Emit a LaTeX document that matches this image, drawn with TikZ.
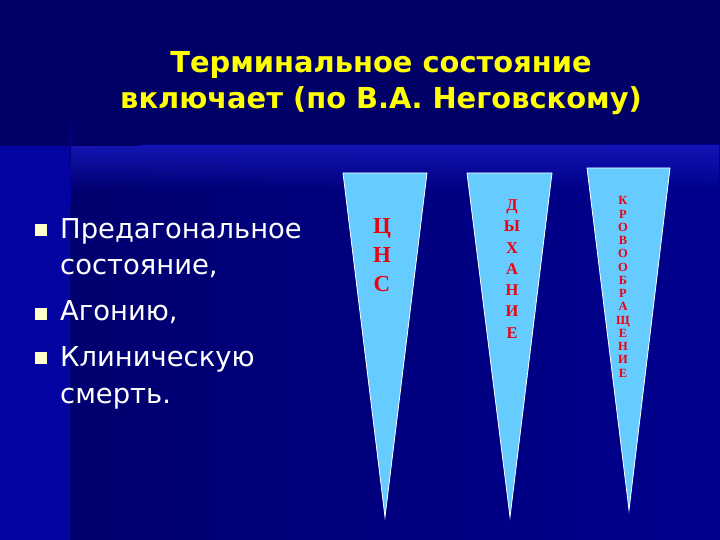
\documentclass[tikz,border=0pt]{standalone}
\usepackage{fontspec}
\setmainfont{DejaVu Sans}
\newfontfamily\letterfont{Liberation Serif}
\usetikzlibrary{fadings}

\definecolor{bgtop}{HTML}{000066}
\definecolor{bgdark}{HTML}{00006C}
\definecolor{bgright}{HTML}{00008E}
\definecolor{bgband}{HTML}{1414B4}
\definecolor{bgstrip}{HTML}{0404A2}
\definecolor{icicle}{HTML}{66CCFF}
\definecolor{titleyellow}{HTML}{FFFF00}
\definecolor{bulletcream}{HTML}{FFFFCC}
\definecolor{letterred}{HTML}{EE0010}

\tikzset{
  title/.style={text=titleyellow,font=\fontsize{29}{36}\selectfont\bfseries,align=center,inner sep=0},
  item/.style={text=white,font=\fontsize{27.5}{37}\selectfont,align=left,inner sep=0,anchor=base west},
  bullet/.style={fill=bulletcream,minimum size=12bp,inner sep=0},
  icicle/.style={fill=icicle,draw=white,line width=0.8bp,line join=miter},
  letters/.style={text=letterred,align=center,inner sep=0},
}

\begin{document}
\begin{tikzpicture}[x=1bp,y=-1bp]
\useasboundingbox (0,0) rectangle (720,540);

% background
\fill[bgtop] (0,0) rectangle (720,145);
\shade[left color=bgdark,right color=bgright] (0,145) rectangle (720,540);
\fill[bgband,path fading=south] (0,145) rectangle (720,190);
\fill[bgstrip] (0,145) rectangle (70,540);
\shade[left color=bgtop,middle color=white,right color=bgtop] (0,144.2) rectangle (140,145.8);
\shade[top color=bgtop,middle color=white,bottom color=bgstrip] (69.2,85) rectangle (70.8,205);

% title
\node[title] (title) at (381,83) {Терминальное состояние\\включает (по В.А. Неговскому)};

% list (base = last line)
\node[bullet] (b1) at (41,230) {};
\node[item] (i1) at (60,275) {Предагональное\\состояние,};
\node[bullet] (b2) at (41,314) {};
\node[item] (i2) at (60,320) {Агонию,};
\node[bullet] (b3) at (41,358) {};
\node[item] (i3) at (60,403) {Клиническую\\смерть.};

% icicles
\draw[icicle] (343,173) coordinate (t1a) -- (427,173) coordinate (t1b) -- (385,517) coordinate (t1c) -- cycle;
\draw[icicle] (467,173) coordinate (t2a) -- (552,173) coordinate (t2b) -- (510,517) coordinate (t2c) -- cycle;
\draw[icicle] (587,168) coordinate (t3a) -- (670,168) coordinate (t3b) -- (629,510) coordinate (t3c) -- cycle;

\node[letters,font=\letterfont\fontsize{23}{29}\selectfont\bfseries] (cns) at (382,255) {Ц\\Н\\С};
\node[letters,font=\letterfont\fontsize{16.5}{21.3}\selectfont\bfseries] (breath) at (512,269) {Д\\Ы\\Х\\А\\Н\\И\\Е};
\node[letters,font=\letterfont\fontsize{12.5}{13.3}\selectfont\bfseries] (blood) at (623,287) {К\\Р\\О\\В\\О\\О\\Б\\Р\\А\\Щ\\Е\\Н\\И\\Е};

\end{tikzpicture}
\end{document}
